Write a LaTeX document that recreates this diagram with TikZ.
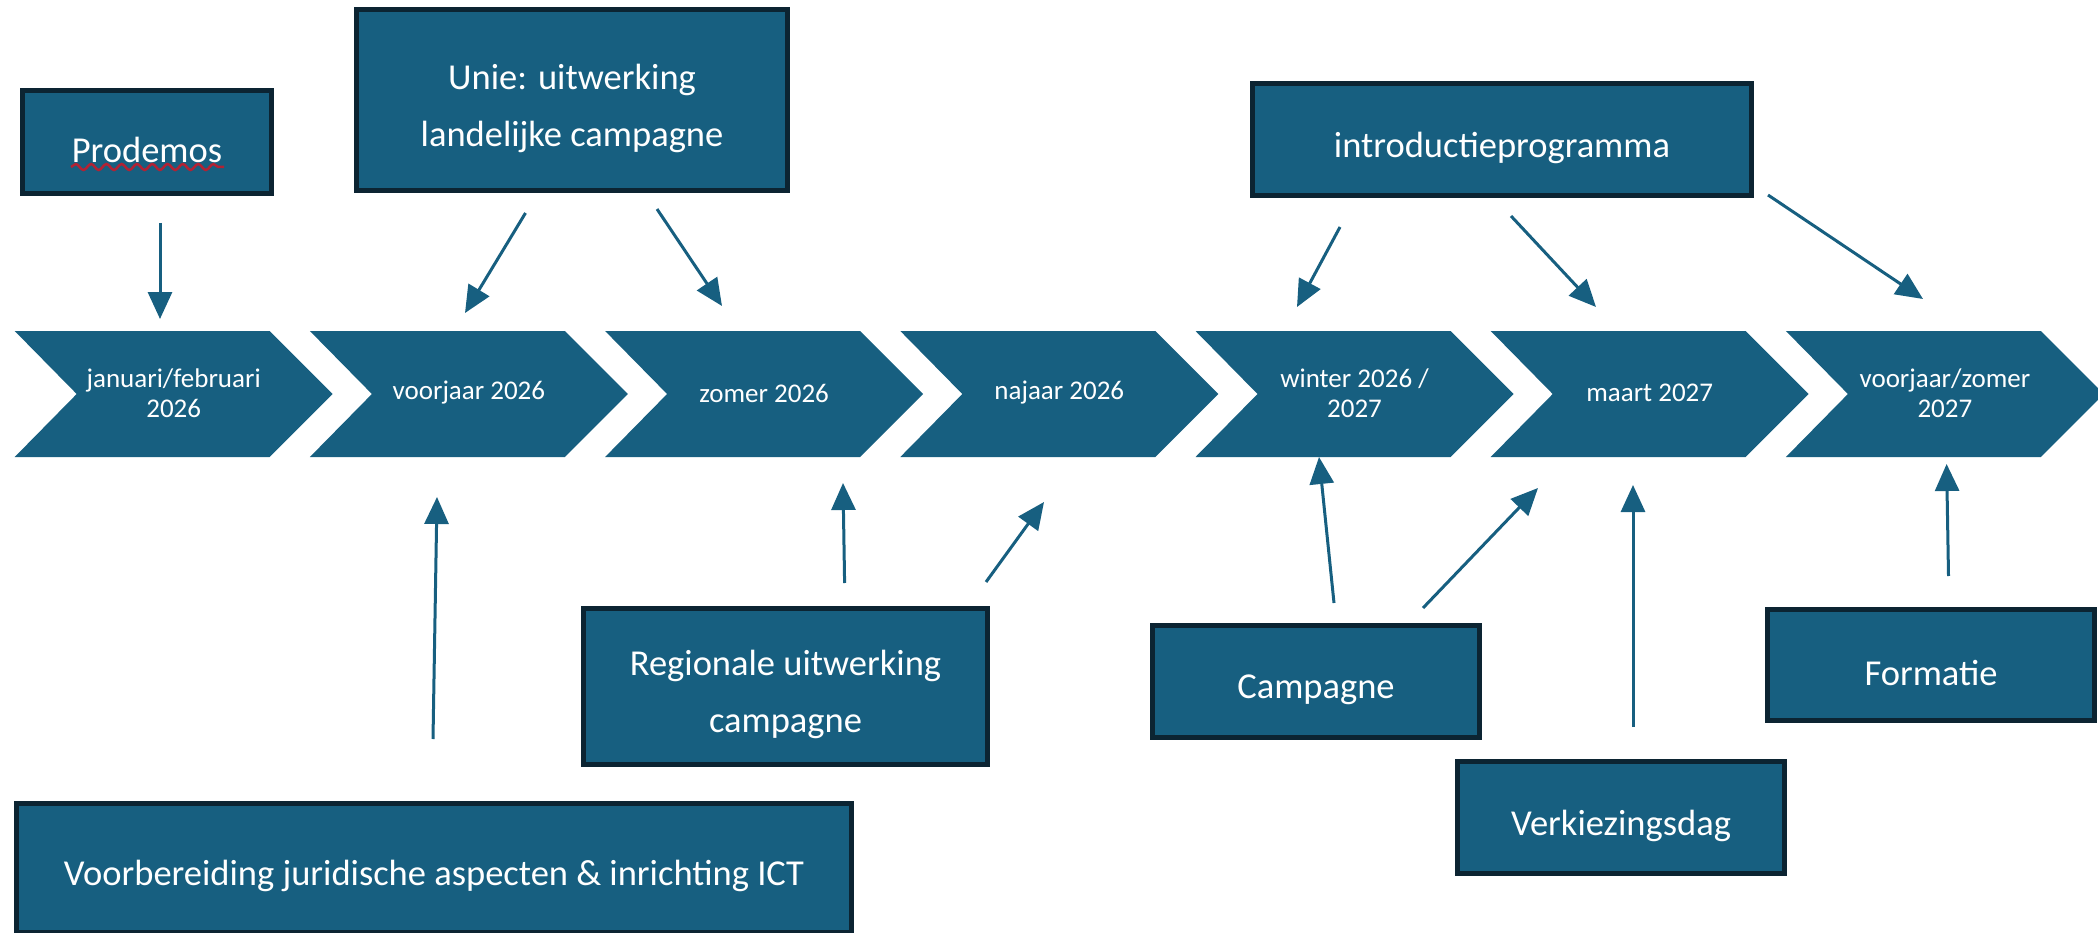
\documentclass[tikz,border=0pt]{standalone}
\usepackage{fontspec}
\setmainfont{Carlito}
\usetikzlibrary{arrows.meta,decorations.pathmorphing}
\definecolor{blauw}{RGB}{23,95,128}
\definecolor{vakrand}{RGB}{12,36,50}
\definecolor{rood}{RGB}{178,34,52}
\tikzset{
  vak/.style={draw=vakrand, line width=5pt, fill=blauw, inner sep=0pt},
  vaktekst/.style={text=white, font=\fontsize{36.5}{57}\selectfont, align=center, yshift=-8pt},
  fasetekst/.style={text=white, font=\fontsize{27}{30}\selectfont, align=center},
  pijl/.style={draw=blauw, line width=3pt, -{Triangle[length=27pt,width=24pt]}}
}
\begin{document}
\begin{tikzpicture}[x=1pt,y=-1pt]%[line cap=round,line join=round]
\useasboundingbox (0,0) rectangle (2098,933);
\foreach \i/\tekst in {0/{januari/februari\\2026},1/{voorjaar 2026},2/{zomer 2026},3/{najaar 2026},4/{winter 2026 /\\2027},5/{maart 2027},6/{voorjaar/zomer\\2027}} {
  \pgfmathsetmacro{\xa}{14.7+295.2*\i}
  \fill [blauw] (\xa,331) -- ++(255,0) -- ++(63,63) -- ++(-63,63) -- ++(-255,0) -- ++(62,-63) -- cycle;
  \node [fasetekst] (fase\i) at (\xa+159,393) {\tekst};
}
\node [vak, minimum width=249, minimum height=103, label={[vaktekst]center:Prodemos}] (prodemos) at (147,142) {};
\node [vak, minimum width=431, minimum height=181, label={[vaktekst]center:Unie: uitwerking\\landelijke campagne}] (unie) at (572,100) {};
\node [vak, minimum width=499, minimum height=112, label={[vaktekst]center:introductieprogramma}] (intro) at (1502,139.5) {};
\node [vak, minimum width=404, minimum height=156, label={[vaktekst]center:Regionale uitwerking\\campagne}] (regionaal) at (785.5,686.5) {};
\node [vak, minimum width=327, minimum height=112, label={[vaktekst]center:Campagne}] (campagne) at (1316,681.5) {};
\node [vak, minimum width=327, minimum height=112, label={[vaktekst]center:Verkiezingsdag}] (verkiezing) at (1621,817.5) {};
\node [vak, minimum width=327, minimum height=111, label={[vaktekst]center:Formatie}] (formatie) at (1931,665) {};
\node [vak, minimum width=835, minimum height=129, label={[vaktekst]center:Voorbereiding juridische aspecten \& inrichting ICT}] (voorbereiding) at (434,868) {};
\draw [rood, line width=2.5pt, decorate, decoration={snake, segment length=15.3pt, amplitude=3pt}] (71,167) -- (224,167);
\coordinate (prodemos-a) at (160,223);
\coordinate (fase0-a) at (160,319);
\coordinate (unie-a) at (525.5,213);
\coordinate (fase1-a) at (465,313);
\coordinate (unie-b) at (657,209);
\coordinate (fase2-a) at (722,306);
\coordinate (intro-a) at (1340,227);
\coordinate (fase4-a) at (1297,307);
\coordinate (intro-b) at (1511,216);
\coordinate (fase5-a) at (1596,307);
\coordinate (intro-c) at (1768,195);
\coordinate (fase6-a) at (1923,299);
\coordinate (voorbereiding-a) at (433,739);
\coordinate (fase1-b) at (437,497);
\coordinate (regionaal-a) at (844.6,583);
\coordinate (fase2-b) at (843,483);
\coordinate (regionaal-b) at (986,582);
\coordinate (fase3-b) at (1044,502);
\coordinate (campagne-a) at (1334,603);
\coordinate (fase4-b) at (1319,457);
\coordinate (campagne-b) at (1423,608);
\coordinate (fase5-b) at (1538,488);
\coordinate (verkiezing-a) at (1633,727);
\coordinate (fase5-c) at (1633,485);
\coordinate (formatie-a) at (1948.5,576);
\coordinate (fase6-b) at (1946.6,464);
\draw [pijl] (prodemos-a) -- (fase0-a);
\draw [pijl] (unie-a) -- (fase1-a);
\draw [pijl] (unie-b) -- (fase2-a);
\draw [pijl] (intro-a) -- (fase4-a);
\draw [pijl] (intro-b) -- (fase5-a);
\draw [pijl] (intro-c) -- (fase6-a);
\draw [pijl] (voorbereiding-a) -- (fase1-b);
\draw [pijl] (regionaal-a) -- (fase2-b);
\draw [pijl] (regionaal-b) -- (fase3-b);
\draw [pijl] (campagne-a) -- (fase4-b);
\draw [pijl] (campagne-b) -- (fase5-b);
\draw [pijl] (verkiezing-a) -- (fase5-c);
\draw [pijl] (formatie-a) -- (fase6-b);
\end{tikzpicture}
\end{document}
